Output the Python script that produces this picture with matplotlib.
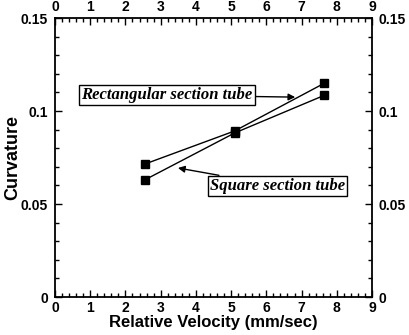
import matplotlib.pyplot as plt
from matplotlib.ticker import MultipleLocator

velocity = [2.55, 5.1, 7.65]
rect_curv = [0.0715, 0.0893, 0.115]
square_curv = [0.063, 0.0882, 0.1085]

xticks = [0, 1, 2, 3, 4, 5, 6, 7, 8, 9]
yticks = [0, 0.05, 0.1, 0.15]
ytick_labels = ["0", "0.05", "0.1", "0.15"]

plt.rcParams['font.family'] = 'Liberation Sans'
plt.rcParams['font.weight'] = 'bold'

fig = plt.figure(figsize=(4.09, 3.35), dpi=100)
ax = fig.add_axes([0.1345, 0.1134, 0.775, 0.8326])

ax.plot(velocity, rect_curv, color='black', lw=1.0, marker='s', ms=5.5)
ax.plot(velocity, square_curv, color='black', lw=1.0, marker='s', ms=5.5)

ax.set_xlim(0, 9)
ax.set_ylim(0, 0.15)
ax.set_xticks(xticks)
ax.set_yticks(yticks)
ax.set_yticklabels(ytick_labels)
ax.xaxis.set_minor_locator(MultipleLocator(0.2))
ax.yaxis.set_minor_locator(MultipleLocator(0.01))
ax.tick_params(which='both', direction='in', top=True, right=True,
               labeltop=True, labelright=True, width=1, labelsize=10)
ax.tick_params(axis='x', which='major', pad=3)
ax.tick_params(axis='y', which='major', pad=5)
ax.tick_params(which='major', length=5)
ax.tick_params(which='minor', length=3)
for s in ax.spines.values():
    s.set_linewidth(1.3)

ax.set_xlabel("Relative Velocity (mm/sec)", fontsize=12, fontweight='bold', labelpad=0)
ax.set_ylabel("Curvature", fontsize=13, fontweight='bold', labelpad=0)

box = dict(boxstyle='square,pad=0.12', fc='white', ec='black', lw=1)
arrow = dict(arrowstyle='-|>', color='black', lw=1, mutation_scale=10, shrinkA=0, shrinkB=0)
ax.annotate("Rectangular section tube", xy=(6.82, 0.1075), xytext=(0.75, 0.1085),
            family='Liberation Serif', style='italic', fontweight='bold', fontsize=12,
            va='center', ha='left', bbox=box, arrowprops=arrow)
ax.annotate("Square section tube", xy=(3.49, 0.0694), xytext=(4.4, 0.0598),
            family='Liberation Serif', style='italic', fontweight='bold', fontsize=12,
            va='center', ha='left', bbox=box, arrowprops=arrow)

fig.savefig("out.png", dpi=100)
